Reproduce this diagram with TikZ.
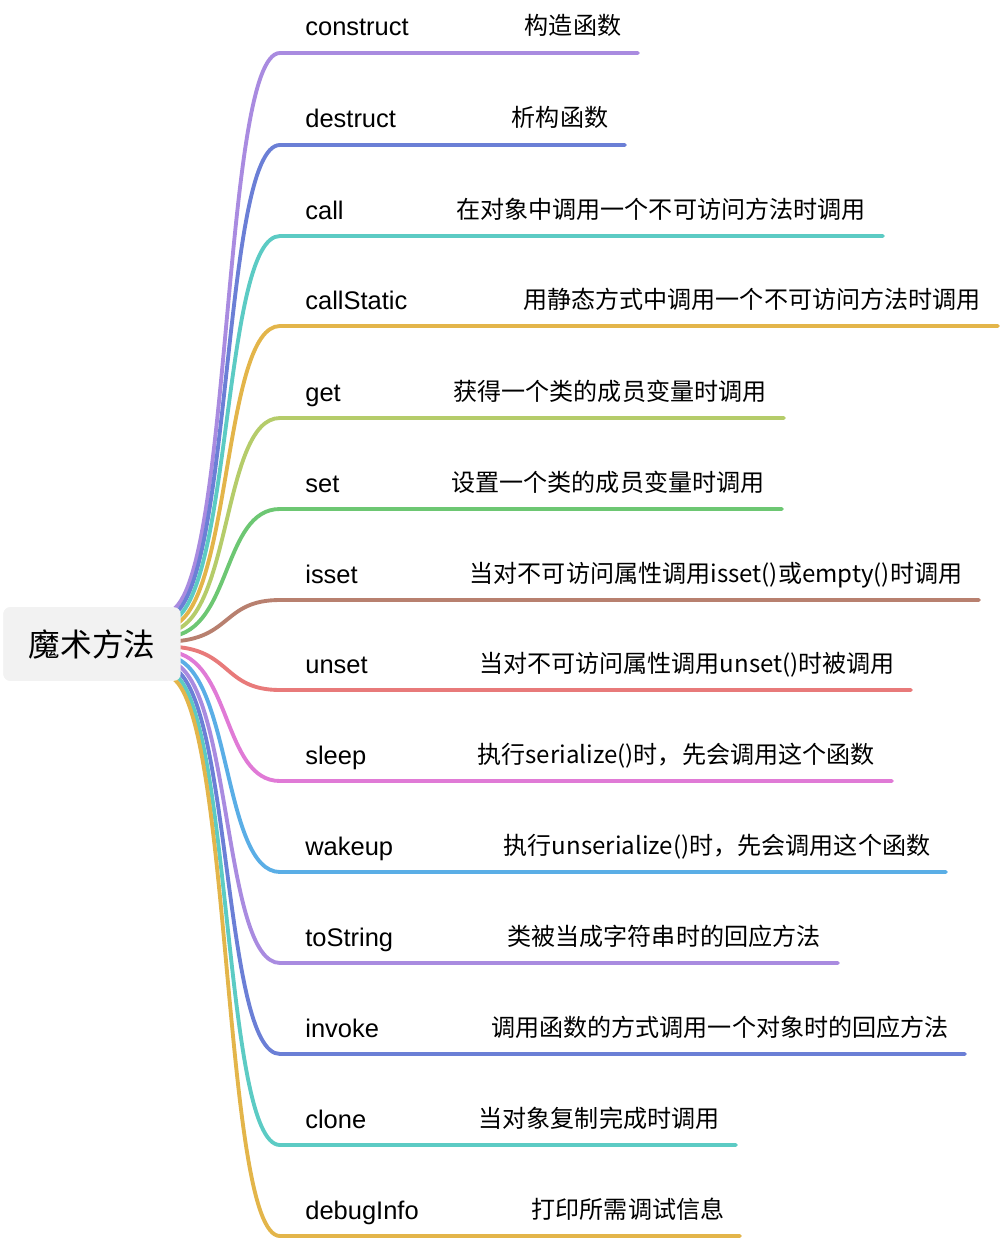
\documentclass[tikz,border=0pt]{standalone}
\usepackage{fontspec}
\setmainfont{Liberation Sans}
\newfontfamily\cjk{Noto Sans CJK SC}
\usetikzlibrary{positioning}
\definecolor{cpurple}{HTML}{A98BE0}
\definecolor{cindigo}{HTML}{6B7FD6}
\definecolor{cteal}{HTML}{5CCBC4}
\definecolor{cgold}{HTML}{E3B54A}
\definecolor{clime}{HTML}{B5CC6A}
\definecolor{cgreen}{HTML}{6DC773}
\definecolor{cbrown}{HTML}{B8806F}
\definecolor{csalmon}{HTML}{E87A7A}
\definecolor{cpink}{HTML}{E07AD6}
\definecolor{csky}{HTML}{5AAEE6}
\tikzset{
  branch/.style={line width=2.2pt, line cap=round},
  keyword/.style={anchor=base west, inner sep=0pt, font=\fontsize{14.5}{16}\selectfont},
  meaning/.style={anchor=base, inner sep=0pt, font=\cjk\fontsize{13.7}{16}\selectfont},
  topic/.style={fill=gray!10, rounded corners=4pt, minimum width=178pt*0.567, minimum height=74pt*0.567, font=\cjk\fontsize{18}{20}\selectfont}
}
\begin{document}
\begin{tikzpicture}[x=0.02cm, y=-0.02cm]
  \useasboundingbox (0,0) rectangle (1000,1240);
  % Root topic
  \node (root) [topic] at (92,644) {魔术方法};
  % Branches: y / end x / text centre / colour / key / meaning
  \foreach \i/\y/\xe/\xc/\col/\key/\txt in {
    1/53/638/573/cpurple/construct/构造函数,
    2/145/625/560/cindigo/destruct/析构函数,
    3/236/883/661/cteal/call/在对象中调用一个不可访问方法时调用,
    4/326/998/752/cgold/callStatic/用静态方式中调用一个不可访问方法时调用,
    5/418/784/610/clime/get/获得一个类的成员变量时调用,
    6/509/782/608/cgreen/set/设置一个类的成员变量时调用,
    7/600/979/716/cbrown/isset/当对不可访问属性调用isset()或empty()时调用,
    8/690/911/687/csalmon/unset/当对不可访问属性调用unset()时被调用,
    9/781/892/676/cpink/sleep/执行serialize()时，先会调用这个函数,
    10/872/946/717/csky/wakeup/执行unserialize()时，先会调用这个函数,
    11/963/838/664/cpurple/toString/类被当成字符串时的回应方法,
    12/1054/965/720/cindigo/invoke/调用函数的方式调用一个对象时的回应方法,
    13/1145/736/599/cteal/clone/当对象复制完成时调用,
    14/1236/740/628/cgold/debugInfo/打印所需调试信息}
  {
    \coordinate (h\i) at (170,{644+(\y-644)*0.055});
    \coordinate (s\i) at (280,\y);
    \coordinate (e\i) at (\xe,\y);
    \draw [branch, \col] (h\i) .. controls (232,{644+(\y-644)*0.1}) and (222,\y) .. (s\i) -- (e\i);
    \node (k\i) [keyword] at (305,\y-17) {\key};
    \node (m\i) [meaning] at (\xc,\y-18) {\txt};
  }
  \node [topic] at (root) {魔术方法};
\end{tikzpicture}
\end{document}
